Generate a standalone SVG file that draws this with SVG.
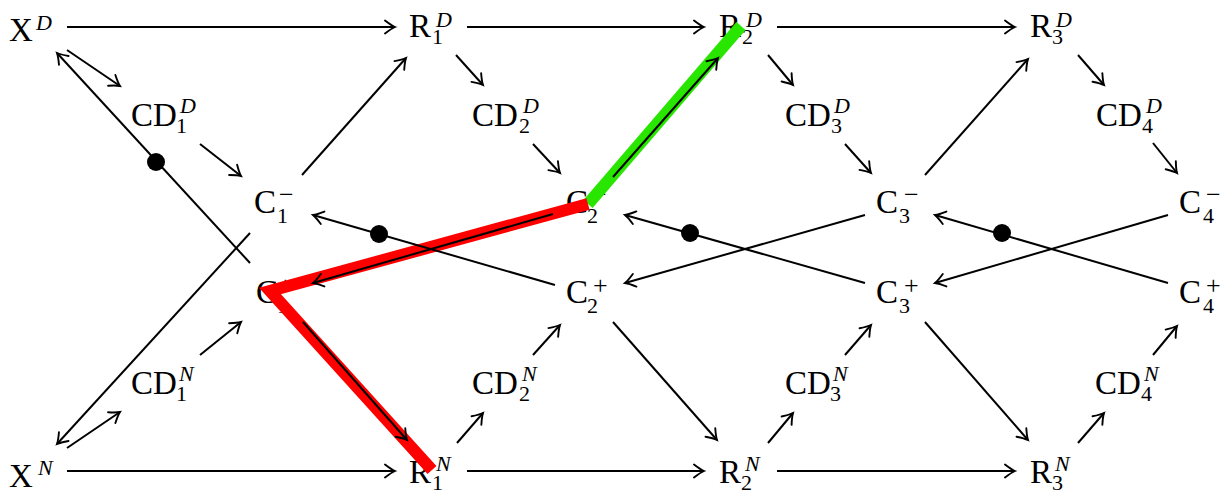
<svg xmlns="http://www.w3.org/2000/svg" width="1229" height="493" viewBox="0 0 1229 493">
<style>
text{font-family:"Liberation Serif","Times New Roman",serif;fill:#000}
.m{font-size:33px}
.s{font-size:22px}
.o{font-size:26px}
.i{font-style:italic}
.c line{stroke:#000;stroke-width:2;fill:none}
.a{marker-end:url(#ar)}
.hl{fill:none;stroke-width:12;stroke-linejoin:miter;stroke-linecap:butt}
</style>
<defs>
<marker id="ar" markerUnits="userSpaceOnUse" markerWidth="20" markerHeight="20" viewBox="-15 -10 20 20" refX="0" refY="0" orient="auto" overflow="visible">
<path d="M-10,-6.5 Q-3.5,-1.5 0,0 Q-3.5,1.5 -10,6.5" fill="none" stroke="#000" stroke-width="1.9" stroke-linecap="round"/>
</marker>
</defs>
<rect width="1229" height="493" fill="#fff"/>

<g id="XD"><text class="m" x="9" y="41">X</text><text class="s i" x="36" y="30">D</text></g>
<g id="XN"><text class="m" x="9" y="487">X</text><text class="s i" x="38" y="475">N</text></g>

<g id="R1D"><text class="m" x="409" y="37">R</text><text class="s" x="432" y="44">1</text><text class="s i" x="436" y="27">D</text></g>
<g id="R2D"><text class="m" x="719" y="37">R</text><text class="s" x="742" y="44">2</text><text class="s i" x="746" y="27">D</text></g>
<g id="R3D"><text class="m" x="1030" y="37">R</text><text class="s" x="1052" y="44">3</text><text class="s i" x="1056" y="27">D</text></g>

<g id="R1N"><text class="m" x="409" y="483">R</text><text class="s" x="432" y="490">1</text><text class="s i" x="436" y="471">N</text></g>
<g id="R2N"><text class="m" x="719" y="483">R</text><text class="s" x="741" y="490">2</text><text class="s i" x="745" y="471">N</text></g>
<g id="R3N"><text class="m" x="1030" y="483">R</text><text class="s" x="1052" y="490">3</text><text class="s i" x="1055" y="471">N</text></g>

<g id="CD1D"><text class="m" x="131" y="126">CD</text><text class="s" x="176" y="133">1</text><text class="s i" x="180" y="113">D</text></g>
<g id="CD2D"><text class="m" x="472" y="126">CD</text><text class="s" x="519" y="133">2</text><text class="s i" x="523" y="113">D</text></g>
<g id="CD3D"><text class="m" x="785" y="126">CD</text><text class="s" x="831" y="133">3</text><text class="s i" x="834" y="113">D</text></g>
<g id="CD4D"><text class="m" x="1096" y="126">CD</text><text class="s" x="1142" y="133">4</text><text class="s i" x="1146" y="113">D</text></g>

<g id="CD1N"><text class="m" x="131" y="394">CD</text><text class="s" x="176" y="401">1</text><text class="s i" x="179" y="381">N</text></g>
<g id="CD2N"><text class="m" x="472" y="394">CD</text><text class="s" x="519" y="401">2</text><text class="s i" x="522" y="381">N</text></g>
<g id="CD3N"><text class="m" x="785" y="394">CD</text><text class="s" x="830" y="401">3</text><text class="s i" x="833" y="381">N</text></g>
<g id="CD4N"><text class="m" x="1095" y="394">CD</text><text class="s" x="1141" y="401">4</text><text class="s i" x="1144" y="381">N</text></g>

<g id="C1m"><text class="m" x="254" y="213">C</text><text class="s" x="277" y="223">1</text><text class="o" x="279" y="203">−</text></g>
<g id="C1p"><text class="m" x="256" y="303">C</text><text class="s" x="277" y="313">1</text><text class="o" x="278" y="294">+</text></g>
<g id="C2m"><text class="m" x="566" y="213">C</text><text class="s" x="587" y="223">2</text><text class="o" x="592" y="203">−</text></g>
<g id="C2p"><text class="m" x="566" y="303">C</text><text class="s" x="587" y="313">2</text><text class="o" x="593" y="294">+</text></g>
<g id="C3m"><text class="m" x="876" y="213">C</text><text class="s" x="899" y="223">3</text><text class="o" x="904" y="203">−</text></g>
<g id="C3p"><text class="m" x="876" y="303">C</text><text class="s" x="899" y="313">3</text><text class="o" x="904" y="294">+</text></g>
<g id="C4m"><text class="m" x="1179" y="213">C</text><text class="s" x="1203" y="223">4</text><text class="o" x="1206" y="203">−</text></g>
<g id="C4p"><text class="m" x="1179" y="303">C</text><text class="s" x="1203" y="313">4</text><text class="o" x="1206" y="294">+</text></g>

<g id="highlights">
<polyline class="hl" stroke="#28e600" points="588,204 741,26"/>
<polyline class="hl" stroke="#ff0000" points="588,204 270,291 432,470"/>
</g>

<g id="connectors" class="c">
<line class="a" x1="67" y1="27" x2="395" y2="27"/>
<line class="a" x1="467" y1="27" x2="704" y2="27"/>
<line class="a" x1="777" y1="27" x2="1015" y2="27"/>
<line class="a" x1="67" y1="471" x2="395" y2="471"/>
<line class="a" x1="467" y1="471" x2="704" y2="471"/>
<line class="a" x1="777" y1="471" x2="1015" y2="471"/>

<line class="a" x1="67" y1="50" x2="120" y2="86"/>
<line class="a" x1="200" y1="144" x2="241" y2="176"/>
<line class="a" x1="302" y1="175" x2="406" y2="58"/>
<line class="a" x1="456" y1="55" x2="483" y2="85"/>
<line class="a" x1="533" y1="144" x2="560" y2="173"/>
<line class="a" x1="613" y1="177" x2="718" y2="58"/>
<line class="a" x1="768" y1="55" x2="793" y2="85"/>
<line class="a" x1="845" y1="144" x2="871" y2="173"/>
<line class="a" x1="925" y1="175" x2="1028" y2="59"/>
<line class="a" x1="1078" y1="55" x2="1104" y2="85"/>
<line class="a" x1="1153" y1="143" x2="1177" y2="173"/>

<line class="a" x1="67" y1="448" x2="120" y2="412"/>
<line class="a" x1="200" y1="355" x2="241" y2="322"/>
<line class="a" x1="303" y1="322" x2="407" y2="440"/>
<line class="a" x1="457" y1="443" x2="483" y2="413"/>
<line class="a" x1="533" y1="355" x2="560" y2="325"/>
<line class="a" x1="613" y1="322" x2="717" y2="440"/>
<line class="a" x1="768" y1="443" x2="793" y2="413"/>
<line class="a" x1="845" y1="355" x2="871" y2="325"/>
<line class="a" x1="925" y1="322" x2="1028" y2="440"/>
<line class="a" x1="1078" y1="443" x2="1104" y2="413"/>
<line class="a" x1="1153" y1="355" x2="1177" y2="326"/>

<line class="a" x1="555" y1="285" x2="313" y2="215"/>
<line class="a" x1="553" y1="214" x2="313" y2="283"/>
<line class="a" x1="865" y1="283" x2="625" y2="215"/>
<line class="a" x1="865" y1="215" x2="625" y2="283"/>
<line class="a" x1="1168" y1="283" x2="935" y2="215"/>
<line class="a" x1="1168" y1="215" x2="935" y2="283"/>
<line class="a" x1="250" y1="263" x2="57" y2="53"/>
<line class="a" x1="250" y1="233" x2="57" y2="444"/>

<circle cx="156" cy="162" r="9"/>
<circle cx="379" cy="234" r="9"/>
<circle cx="690" cy="233" r="9"/>
<circle cx="1002" cy="233" r="9"/>
</g>
</svg>
